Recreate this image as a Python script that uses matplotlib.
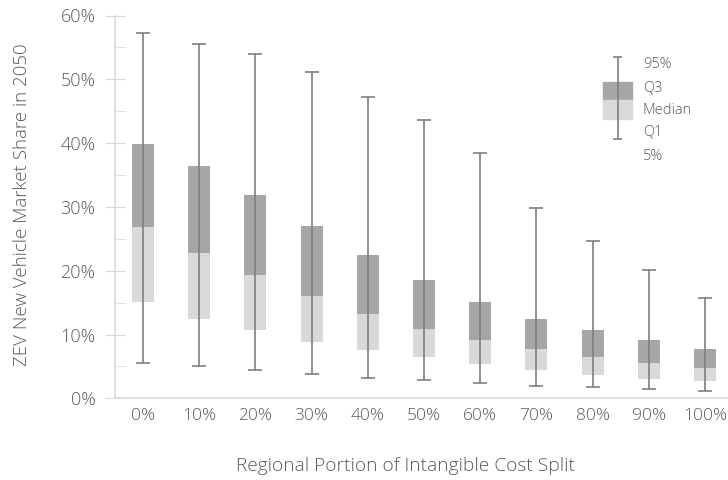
import numpy as np
import matplotlib.pyplot as plt
from matplotlib.patches import Rectangle
from matplotlib.ticker import MultipleLocator, PercentFormatter

plt.rcParams['font.family'] = ['Open Sans', 'DejaVu Sans']
plt.rcParams['font.weight'] = 'light'

# Data (percent)
categories = ['0%', '10%', '20%', '30%', '40%', '50%', '60%', '70%', '80%', '90%', '100%']
p95    = [57.3, 55.6, 53.9, 51.2, 47.2, 43.6, 38.4, 29.9, 24.7, 20.1, 15.7]
q3     = [39.8, 36.4, 31.8, 27.0, 22.4, 18.5, 15.1, 12.5, 10.7,  9.1,  7.8]
median = [26.8, 22.8, 19.3, 16.1, 13.2, 10.9,  9.1,  7.7,  6.5,  5.5,  4.7]
q1     = [15.1, 12.5, 10.7,  8.9,  7.5,  6.4,  5.3,  4.5,  3.7,  3.1,  2.7]
p5     = [ 5.6,  5.0,  4.4,  3.8,  3.2,  2.8,  2.35, 2.0,  1.8,  1.4,  1.2]

dark = '#a6a6a6'
light = '#d9d9d9'
wcol = '#7f7f7f'
tcol = '#595959'

fig = plt.figure(figsize=(7.28, 4.8), dpi=100)
ax = fig.add_axes([115 / 728, 1 - 398.3 / 480, 618 / 728, 382.8 / 480])

x = np.arange(len(categories))
q1a, meda, q3a = np.array(q1), np.array(median), np.array(q3)
bw = 0.39
# lower box (Q1 -> median) and upper box (median -> Q3)
ax.bar(x, meda - q1a, bottom=q1a, width=bw, color=light, zorder=2)
ax.bar(x, q3a - meda, bottom=meda, width=bw, color=dark, zorder=2)
# whiskers
ax.vlines(x, p5, p95, color=wcol, lw=1.2, zorder=3)
ax.hlines(p95, x - 0.125, x + 0.125, color=wcol, lw=1.2, zorder=3)
ax.hlines(p5, x - 0.125, x + 0.125, color=wcol, lw=1.2, zorder=3)

ax.set_xlim(-0.5, 10.5)
ax.set_ylim(0, 60)
ax.set_xticks(x)
ax.set_xticklabels(categories)
ax.yaxis.set_major_locator(MultipleLocator(10))
ax.yaxis.set_minor_locator(MultipleLocator(5))
ax.yaxis.set_major_formatter(PercentFormatter(decimals=0))

for s in ['top', 'right']:
    ax.spines[s].set_visible(False)
for s in ['left', 'bottom']:
    ax.spines[s].set_color('#d9d9d9')
    ax.spines[s].set_linewidth(1.2)
ax.tick_params(axis='y', which='major', direction='inout', length=14, color='#d9d9d9',
               labelcolor=tcol, labelsize=13, pad=7)
ax.tick_params(axis='y', which='minor', direction='in', length=7, color='#d9d9d9')
ax.tick_params(axis='x', length=0, labelcolor=tcol, labelsize=12.5, pad=7)

fig.text(22 / 728, 1 - 205 / 480, 'ZEV New Vehicle Market Share in 2050', color=tcol,
         fontsize=13.5, rotation=90, ha='center', va='center')
fig.text(405 / 728, 1 - 466 / 480, 'Regional Portion of Intangible Cost Split',
         color=tcol, fontsize=13.8, ha='center', va='center')

# legend drawn by hand in pixel coordinates
lg = fig.add_axes([590 / 728, 1 - 165 / 480, 120 / 728, 115 / 480])
lg.set_xlim(590, 710)
lg.set_ylim(165, 50)
lg.axis('off')
lg.add_patch(Rectangle((602.7, 82.3), 29, 17.7, color=dark))
lg.add_patch(Rectangle((602.7, 100), 29, 19, color=light))
lg.vlines(617.5, 57.3, 139.3, color=wcol, lw=1.2)
lg.hlines([57.3, 139.3], 613, 622, color=wcol, lw=1.2)
for lab, yy in zip(['95%', 'Q3', 'Median', 'Q1', '5%'], [65, 88.3, 111, 131.7, 156]):
    lg.text(643, yy, lab, color=tcol, fontsize=10.5, va='center', ha='left')

fig.savefig('out.png', dpi=100)
